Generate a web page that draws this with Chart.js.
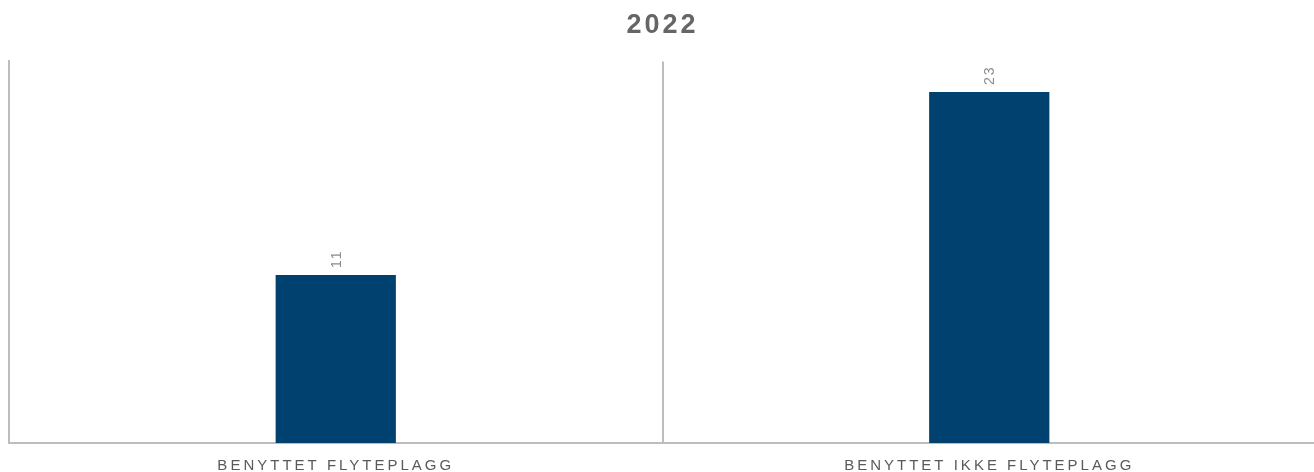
<!DOCTYPE html>
<html>
<head>
<meta charset="utf-8">
<script src="https://cdn.jsdelivr.net/npm/chart.js@4/dist/chart.umd.min.js"></script>
<style>
  body { margin: 0; background: #fff; overflow: hidden; }
  #wrap { width: 1316px; height: 472px; }
</style>
</head>
<body>
<div id="wrap"><canvas id="barChart" width="1316" height="472"></canvas></div>
<script>
const categories = ['BENYTTET FLYTEPLAGG', 'BENYTTET IKKE FLYTEPLAGG'];
const counts = [11, 23];
const chartTitle = '2022';

// rotated value labels above the bars
const valueLabels = {
  id: 'valueLabels',
  afterDatasetsDraw(chart) {
    const ctx = chart.ctx;
    const meta = chart.getDatasetMeta(0);
    ctx.save();
    ctx.font = '14px "Liberation Sans", Arial, sans-serif';
    ctx.letterSpacing = '2px';
    ctx.fillStyle = '#8c8c8c';
    ctx.textAlign = 'left';
    ctx.textBaseline = 'middle';
    meta.data.forEach((bar, i) => {
      ctx.save();
      ctx.translate(bar.x + 1, bar.y - 7);
      ctx.rotate(-Math.PI / 2);
      ctx.fillText(String(counts[i]), 0, 0);
      ctx.restore();
    });
    ctx.restore();
  }
};

// spaced-out lettering for axis labels and title
const spacing = {
  id: 'spacing',
  beforeDraw(chart) { chart.ctx.letterSpacing = '3px'; },
  afterDraw(chart) { chart.ctx.letterSpacing = '0px'; }
};

const ctx = document.getElementById('barChart');
new Chart(ctx, {
  type: 'bar',
  data: {
    labels: categories,
    datasets: [{
      label: chartTitle,
      data: counts,
      backgroundColor: '#01416f',
      borderWidth: 0,
      categoryPercentage: 1,
      barPercentage: 0.184
    }]
  },
  options: {
    responsive: false,
    devicePixelRatio: 1,
    animation: false,
    layout: { padding: { left: 9, right: 0, top: 0, bottom: -16 } },
    plugins: {
      legend: { display: false },
      tooltip: { enabled: false },
      title: {
        display: true,
        text: chartTitle,
        color: '#666666',
        font: { family: '"Liberation Sans", Arial, sans-serif', size: 27, weight: 'bold', lineHeight: 1.2 },
        padding: { top: 9, bottom: 20 }
      }
    },
    scales: {
      x: {
        offset: true,
        grid: { display: true, offset: true, color: '#bdbdbd', lineWidth: 2, drawTicks: false },
        border: { display: true, color: '#bdbdbd', width: 2 },
        ticks: {
          color: '#5a5a5a',
          padding: 15,
          font: { family: '"Liberation Sans", Arial, sans-serif', size: 15, lineHeight: 1.0 }
        }
      },
      y: {
        min: 0,
        max: 25,
        grid: { display: false, drawTicks: false },
        border: { display: true, color: '#bdbdbd', width: 2 },
        ticks: { display: false }
      }
    }
  },
  plugins: [spacing, valueLabels]
});
</script>
</body>
</html>
